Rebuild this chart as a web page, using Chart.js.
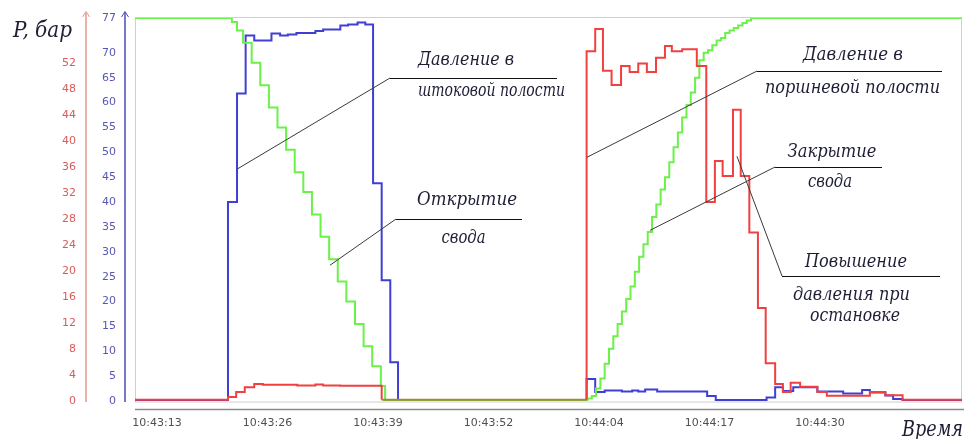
<!DOCTYPE html>
<html>
<head>
<meta charset="utf-8">
<script src="https://cdn.jsdelivr.net/npm/chart.js@4.4.1/dist/chart.umd.min.js"></script>
<style>
  html, body { margin: 0; padding: 0; background: #ffffff; }
  #c { display: block; }
</style>
</head>
<body>
<canvas id="c" width="964" height="439"></canvas>
<script>
// Time axis: seconds counted from 10:43:13
const timeLabels = ['10:43:13', '10:43:26', '10:43:39', '10:43:52', '10:44:04', '10:44:17', '10:44:30'];
const timeStart = -2.55;
const timeEnd = 93.5;
const labelSpan = 77; // 10:43:13 .. 10:44:30

// Left scales
const blueTicks = [0, 5, 10, 15, 20, 25, 30, 35, 40, 45, 50, 55, 60, 65, 70, 77];
const redTicks = [0, 4, 8, 12, 16, 20, 24, 28, 32, 36, 40, 44, 48, 52];

// Давление в штоковой полости (blue scale)
const rodT = [-2.6, 8.25, 9.3, 10.3, 11.3, 13.3, 14.3, 15.2, 16.2, 18.4, 19.3, 21.3, 22.2, 23.3, 24.2, 25.1, 26.1, 27.1, 28.0,
              49.9, 50.9, 52.0, 54.0, 55.2, 55.9, 56.7, 58.1, 63.9, 64.9, 70.8, 71.8, 72.7, 73.9, 76.7, 79.7, 81.9, 82.8, 84.6, 85.5, 86.6, 93.6];
const rodP = [0.2, 40, 61.8, 73.5, 72.5, 73.9, 73.5, 73.7, 74.0, 74.4, 74.7, 75.5, 75.7, 76.1, 75.7, 43.8, 24.3, 7.8, 0.2,
              4.4, 1.8, 2.1, 1.9, 2.1, 1.9, 2.3, 1.9, 1.0, 0.2, 0.7, 2.75, 2.0, 2.75, 1.9, 1.5, 2.2, 1.7, 1.1, 0.4, 0.2, 0.2];

// Давление в поршневой полости (red scale)
const pistonT = [-2.6, 8.25, 9.2, 10.2, 11.3, 12.3, 16.3, 18.4, 19.3, 21.3, 26.1, 49.9,
                 49.9, 50.9, 51.8, 52.8, 53.9, 54.9, 55.9, 56.9, 57.96, 59.0, 59.8, 61.0, 62.7, 63.8, 64.8, 65.7, 66.9, 67.8,
                 68.8, 69.8, 70.7, 71.8, 72.7, 73.6, 74.7, 76.7, 77.8, 82.8, 84.6, 86.6, 93.6];
const pistonP = [0.2, 0.6, 1.4, 2.1, 2.6, 2.5, 2.4, 2.55, 2.4, 2.35, 0.2, 0.2,
                 53.8, 57.2, 50.8, 48.6, 51.5, 50.6, 51.9, 50.6, 52.8, 54.6, 53.8, 54.1, 51.5, 30.6, 36.9, 34.6, 44.8, 34.6,
                 25.9, 14.3, 5.8, 2.6, 1.4, 2.8, 2.2, 1.4, 0.8, 1.4, 0.9, 0.2, 0.2];

// Положение свода (blue scale)
const roofT = [-2.6, 8.7, 9.3, 10, 11, 12, 13, 14, 15, 16, 17, 18, 19, 20, 21, 22, 23, 24, 25, 26, 26.5,
               50.0, 50.5, 51, 51.5, 52, 52.5, 53, 53.5, 54, 54.5, 55, 55.5, 56, 56.5, 57, 57.5, 58, 58.5, 59, 59.5,
               60, 60.5, 61, 61.5, 62, 62.5, 63, 63.5, 64, 64.5, 65, 65.5, 66, 66.5, 67, 67.5, 68, 68.5, 69, 93.6];
const roofPos = [77, 76.2, 74.5, 72, 68, 63.5, 59, 55, 50.5, 46, 42, 37.5, 33, 28.5, 24, 20, 15.5, 11, 7, 3, 0,
                 0.5, 1, 2.5, 4.5, 7.5, 10.5, 13, 15.5, 18, 20.5, 23, 26, 29, 31.5, 34, 37, 39.5, 42.5, 45, 48,
                 51, 54, 57, 59.5, 62, 65, 68.5, 70, 70.5, 71.5, 72.5, 73, 74, 74.5, 75, 75.5, 76, 76.5, 77, 77];

const pts = (ts, vs) => ts.map((t, i) => ({ x: t, y: vs[i] }));

// roof position in effect at time t (stepped)
function roofAt(t) {
  let v = roofPos[0];
  for (let i = 0; i < roofT.length && roofT[i] <= t; i++) v = roofPos[i];
  return v;
}

// Callouts: tip in data units (time, blue scale); elbow, text centre and text width in canvas pixels
const callouts = [
  { tip: [9.29, 46.6], elbow: [390, 78], end: 557, lines: [['Давление в', 466, 60, 96], ['штоковой полости', 491.5, 91, 147]] },
  { tip: [20.1, 27.3], elbow: [396, 219], end: 522, lines: [['Открытие', 467, 200, 100], ['свода', 463.5, 238, 44]] },
  { tip: [49.94, 49.0], elbow: [757, 71], end: 942, lines: [['Давление в', 853, 55, 100], ['поршневой полости', 852.5, 88, 175]] },
  { tip: [57.26, 34.3], elbow: [775, 167], end: 882, lines: [['Закрытие', 832, 152, 89], ['свода', 830, 182, 44]] },
  { tip: [67.36, 49.2], elbow: [782, 276], end: 940, lines: [['Повышение', 856, 262, 102], ['давления при', 851.5, 295, 117], ['остановке', 855, 316, 90]] }
];

const textColor = '#1e1e36';
const serif = "'DejaVu Serif', serif";

function fitText(ctx, s, cx, cy, w) {
  const k = w / ctx.measureText(s).width;
  ctx.save();
  ctx.translate(cx, cy);
  ctx.scale(k, 1);
  ctx.fillText(s, 0, 0);
  ctx.restore();
}

const decor = {
  id: 'decor',
  beforeDatasetsDraw(chart) {
    const { ctx, chartArea: a } = chart;
    ctx.save();
    ctx.strokeStyle = '#cfcfcf';
    ctx.lineWidth = 1;
    ctx.strokeRect(a.left + 0.5, a.top - 0.5, a.right - a.left - 1, a.bottom - a.top + 1.5);
    ctx.restore();
  },
  afterDraw(chart) {
    const { ctx, chartArea: a } = chart;
    const xs = chart.scales.x, ys = chart.scales.yBlue;
    ctx.save();

    // x axis line under the plot
    ctx.strokeStyle = '#8a8a8a';
    ctx.lineWidth = 1.5;
    ctx.beginPath();
    ctx.moveTo(a.left, 409.5);
    ctx.lineTo(a.right + 2, 409.5);
    ctx.stroke();

    // vertical axis lines with arrows
    const axisLine = (x, color) => {
      ctx.strokeStyle = color;
      ctx.lineWidth = 1.5;
      ctx.beginPath();
      ctx.moveTo(x, 12);
      ctx.lineTo(x, a.bottom + 1);
      ctx.stroke();
      ctx.lineWidth = 1;
      ctx.beginPath();
      ctx.moveTo(x - 3.5, 17);
      ctx.lineTo(x, 11.5);
      ctx.lineTo(x + 3.5, 17);
      ctx.stroke();
    };
    axisLine(86, '#e39a8c');
    axisLine(125, '#4b4bb8');

    // axis titles
    ctx.fillStyle = textColor;
    ctx.textBaseline = 'middle';
    ctx.textAlign = 'center';
    ctx.font = "italic 22px " + serif;
    fitText(ctx, 'P, бар', 42.5, 31, 59);
    fitText(ctx, 'Время', 932.5, 430, 61);

    // callouts
    ctx.font = "italic 18px " + serif;
    callouts.forEach(c => {
      const tx = xs.getPixelForValue(c.tip[0]);
      const ty = ys.getPixelForValue(c.tip[1]);
      ctx.strokeStyle = '#3a3a3a';
      ctx.lineWidth = 1;
      ctx.beginPath();
      ctx.moveTo(tx, ty);
      ctx.lineTo(c.elbow[0], c.elbow[1]);
      ctx.stroke();
      ctx.strokeStyle = '#111111';
      ctx.lineWidth = 1.2;
      ctx.beginPath();
      ctx.moveTo(c.elbow[0], c.elbow[1] + 0.5);
      ctx.lineTo(c.end, c.elbow[1] + 0.5);
      ctx.stroke();
      c.lines.forEach(([s, x, y, w]) => fitText(ctx, s, x, y, w));
    });
    ctx.restore();
  }
};

const tickFont = { family: "'DejaVu Sans', sans-serif", size: 11 };
const pistonColor = '#f04040';
const overlapColor = '#a5863c';
const noEdgePadding = s => { s.paddingTop = 0; s.paddingBottom = 0; };

new Chart(document.getElementById('c'), {
  type: 'line',
  data: {
    datasets: [
      { label: 'Давление в поршневой полости', data: pts(pistonT, pistonP), yAxisID: 'yRed', borderColor: pistonColor, stepped: true, order: 0,
        segment: { borderColor: s => (s.p0.parsed.y < 0.5 && s.p1.parsed.y < 0.5 && roofAt((s.p0.parsed.x + s.p1.parsed.x) / 2) < 0.5) ? overlapColor : pistonColor } },
      { label: 'Положение свода', data: pts(roofT, roofPos), yAxisID: 'yBlue', borderColor: '#6cf04a', stepped: true, order: 1 },
      { label: 'Давление в штоковой полости', data: pts(rodT, rodP), yAxisID: 'yBlue', borderColor: '#3f3fd4', stepped: true, order: 2 }
    ]
  },
  options: {
    responsive: false,
    animation: false,
    devicePixelRatio: 1,
    parsing: false,
    layout: { padding: { top: 18, right: 2, left: 0, bottom: 0 } },
    plugins: { legend: { display: false }, tooltip: { enabled: false } },
    elements: { point: { radius: 0 }, line: { borderWidth: 2, tension: 0, fill: false } },
    scales: {
      x: {
        type: 'linear', min: timeStart, max: timeEnd,
        grid: { display: false, drawTicks: false },
        border: { display: false },
        afterBuildTicks: s => { s.ticks = timeLabels.map((_, i) => ({ value: i * labelSpan / (timeLabels.length - 1) })); },
        afterFit: s => { s.height = 38; s.paddingLeft = 0; s.paddingRight = 0; },
        ticks: { autoSkip: false, maxRotation: 0, padding: 16, color: '#505050', font: tickFont,
                 callback: (v, i) => timeLabels[i] }
      },
      yRed: {
        type: 'linear', position: 'left', weight: 2, min: 0, max: 58.9,
        grid: { display: false, drawTicks: false },
        border: { display: false },
        afterBuildTicks: s => { s.ticks = redTicks.map(v => ({ value: v })); },
        afterFit: s => { s.width = 86; noEdgePadding(s); },
        ticks: { padding: 10, color: '#d85c5c', font: tickFont }
      },
      yBlue: {
        type: 'linear', position: 'left', weight: 1, min: 0, max: 77,
        grid: { display: false, drawTicks: false },
        border: { display: false },
        afterBuildTicks: s => { s.ticks = blueTicks.map(v => ({ value: v })); },
        afterFit: s => { s.width = 49; noEdgePadding(s); },
        ticks: { padding: 19, color: '#5858b4', font: tickFont }
      }
    }
  },
  plugins: [decor]
});
</script>
</body>
</html>
